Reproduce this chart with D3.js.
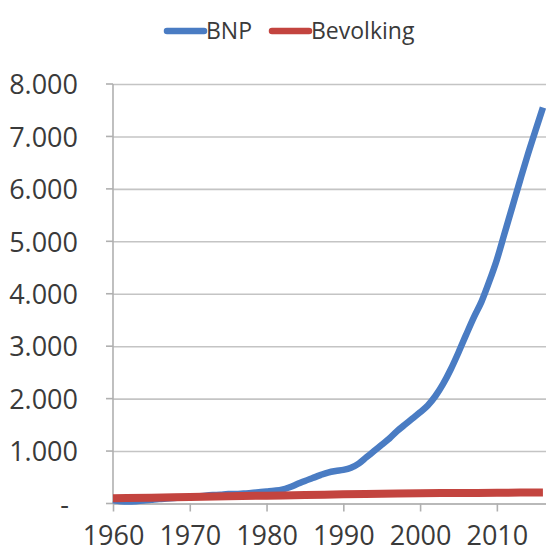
<!DOCTYPE html>
<html>
<head>
<meta charset="utf-8">
<script src="https://cdn.jsdelivr.net/npm/d3@7"></script>
<style>
    body { margin: 0; background: #fff; }
    svg { display: block; }
    svg text { font-family: "Open Sans", sans-serif; fill: #3a3a3a; }
</style>
</head>
<body>
<svg id="chart"></svg>
<script>
// values (index, 1960 = 100)
const bnpYears = [1960, 1961, 1962, 1963, 1964, 1965, 1966, 1967, 1968, 1969,
    1970, 1971, 1972, 1973, 1974, 1975, 1976, 1977, 1978, 1979,
    1980, 1981, 1982, 1983, 1984, 1985, 1986, 1987, 1988, 1989,
    1990, 1991, 1992, 1993, 1994, 1995, 1996, 1997, 1998, 1999,
    2000, 2001, 2002, 2003, 2004, 2005, 2006, 2007, 2008, 2009,
    2010, 2011, 2012, 2013, 2014, 2015, 2016];
const bnpValues = [60, 45, 40, 45, 55, 70, 85, 95, 105, 115,
    120, 135, 150, 160, 165, 180, 180, 190, 200, 215,
    230, 245, 265, 310, 370, 430, 485, 540, 590, 620,
    640, 680, 760, 880, 1000, 1120, 1240, 1380, 1500, 1620,
    1740, 1870, 2050, 2280, 2560, 2880, 3220, 3550, 3850, 4230,
    4650, 5150, 5650, 6150, 6640, 7100, 7550];

const bevYears = [1960, 1965, 1970, 1975, 1980, 1985, 1990, 1995, 2000, 2005, 2010, 2016];
const bevValues = [100, 110, 125, 140, 150, 160, 175, 185, 195, 200, 205, 210];

const yTicks = [0, 1000, 2000, 3000, 4000, 5000, 6000, 7000, 8000];
const xTicks = [1960, 1970, 1980, 1990, 2000, 2010];

const seriesNames = ["BNP", "Bevolking"];
const seriesColors = ["#4a7cc3", "#c3443f"];

function drawChart() {
    const width = 546;
    const height = 557;
    const left = 113;
    const top = 84;
    const bottom = 503.5;

    const xScale = d3.scaleLinear()
        .domain([1960, 2016.4])
        .range([left, width]);

    const yScale = d3.scaleLinear()
        .domain([0, 8000])
        .range([bottom, top]);

    const svg = d3.select("#chart")
        .attr("width", width)
        .attr("height", height);

    // gridlines + y labels (ticks stretch across the plot)
    const yAxis = d3.axisLeft(yScale)
        .tickValues(yTicks)
        .tickSize(-(width - left))
        .tickPadding(35)
        .tickFormat(d => d === 0 ? "-" : d3.format(",")(d).replace(/,/g, "."));

    const yG = svg.append("g")
        .attr("transform", `translate(${left}, 0)`)
        .call(yAxis)
        .attr("font-family", null);
    yG.select(".domain").remove();
    yG.selectAll(".tick line")
        .attr("stroke", "#c4c4c4")
        .attr("stroke-width", 1.6);
    yG.selectAll(".tick text")
        .style("font-size", "27px")
        .attr("dy", "0.36em");
    yG.selectAll(".tick")
        .filter(d => d === 0)
        .select("text")
        .attr("x", -44);

    // small tick marks on the left of the y axis
    svg.append("g")
        .selectAll("line")
        .data(yTicks)
        .enter()
        .append("line")
            .attr("x1", left - 7)
            .attr("x2", left)
            .attr("y1", d => yScale(d))
            .attr("y2", d => yScale(d))
            .attr("stroke", "#b0b0b0")
            .attr("stroke-width", 1.6);

    // y axis line
    svg.append("line")
        .attr("x1", left)
        .attr("x2", left)
        .attr("y1", top)
        .attr("y2", bottom)
        .attr("stroke", "#b0b0b0")
        .attr("stroke-width", 1.6);

    // x axis
    const xAxis = d3.axisBottom(xScale)
        .tickValues(xTicks)
        .tickFormat(d3.format("d"))
        .tickSize(8)
        .tickSizeOuter(0)
        .tickPadding(14);

    const xG = svg.append("g")
        .attr("transform", `translate(0, ${bottom})`)
        .call(xAxis)
        .attr("font-family", null);
    xG.select(".domain")
        .attr("stroke", "#b0b0b0")
        .attr("stroke-width", 1.6);
    xG.selectAll(".tick line")
        .attr("stroke", "#b0b0b0")
        .attr("stroke-width", 1.6);
    xG.selectAll(".tick text")
        .style("font-size", "27px");

    const line = d3.line()
        .x(d => xScale(d[0]))
        .y(d => yScale(d[1]))
        .curve(d3.curveMonotoneX);

    const bnpData = bnpYears.map((y, i) => [y, bnpValues[i]]);
    const bevData = bevYears.map((y, i) => [y, bevValues[i]]);

    svg.append("path")
        .datum(bnpData)
        .attr("d", line)
        .attr("fill", "none")
        .attr("stroke", seriesColors[0])
        .attr("stroke-width", 6.5)
        .attr("stroke-linejoin", "round");

    svg.append("path")
        .datum(bevData)
        .attr("d", line)
        .attr("fill", "none")
        .attr("stroke", seriesColors[1])
        .attr("stroke-width", 8)
        .attr("stroke-linejoin", "round");

    // legend
    const legendX = [167, 272];
    const legend = svg.append("g")
        .selectAll("g")
        .data(seriesNames)
        .enter()
        .append("g")
            .attr("transform", (d, i) => `translate(${legendX[i]}, 31)`);

    legend.append("line")
        .attr("x1", 0)
        .attr("x2", 37)
        .attr("stroke", (d, i) => seriesColors[i])
        .attr("stroke-width", 6.5)
        .attr("stroke-linecap", "round");

    legend.append("text")
        .attr("x", 39)
        .attr("dy", "0.35em")
        .style("font-size", "23px")
        .text(d => d);
}

drawChart();
</script>
</body>
</html>
